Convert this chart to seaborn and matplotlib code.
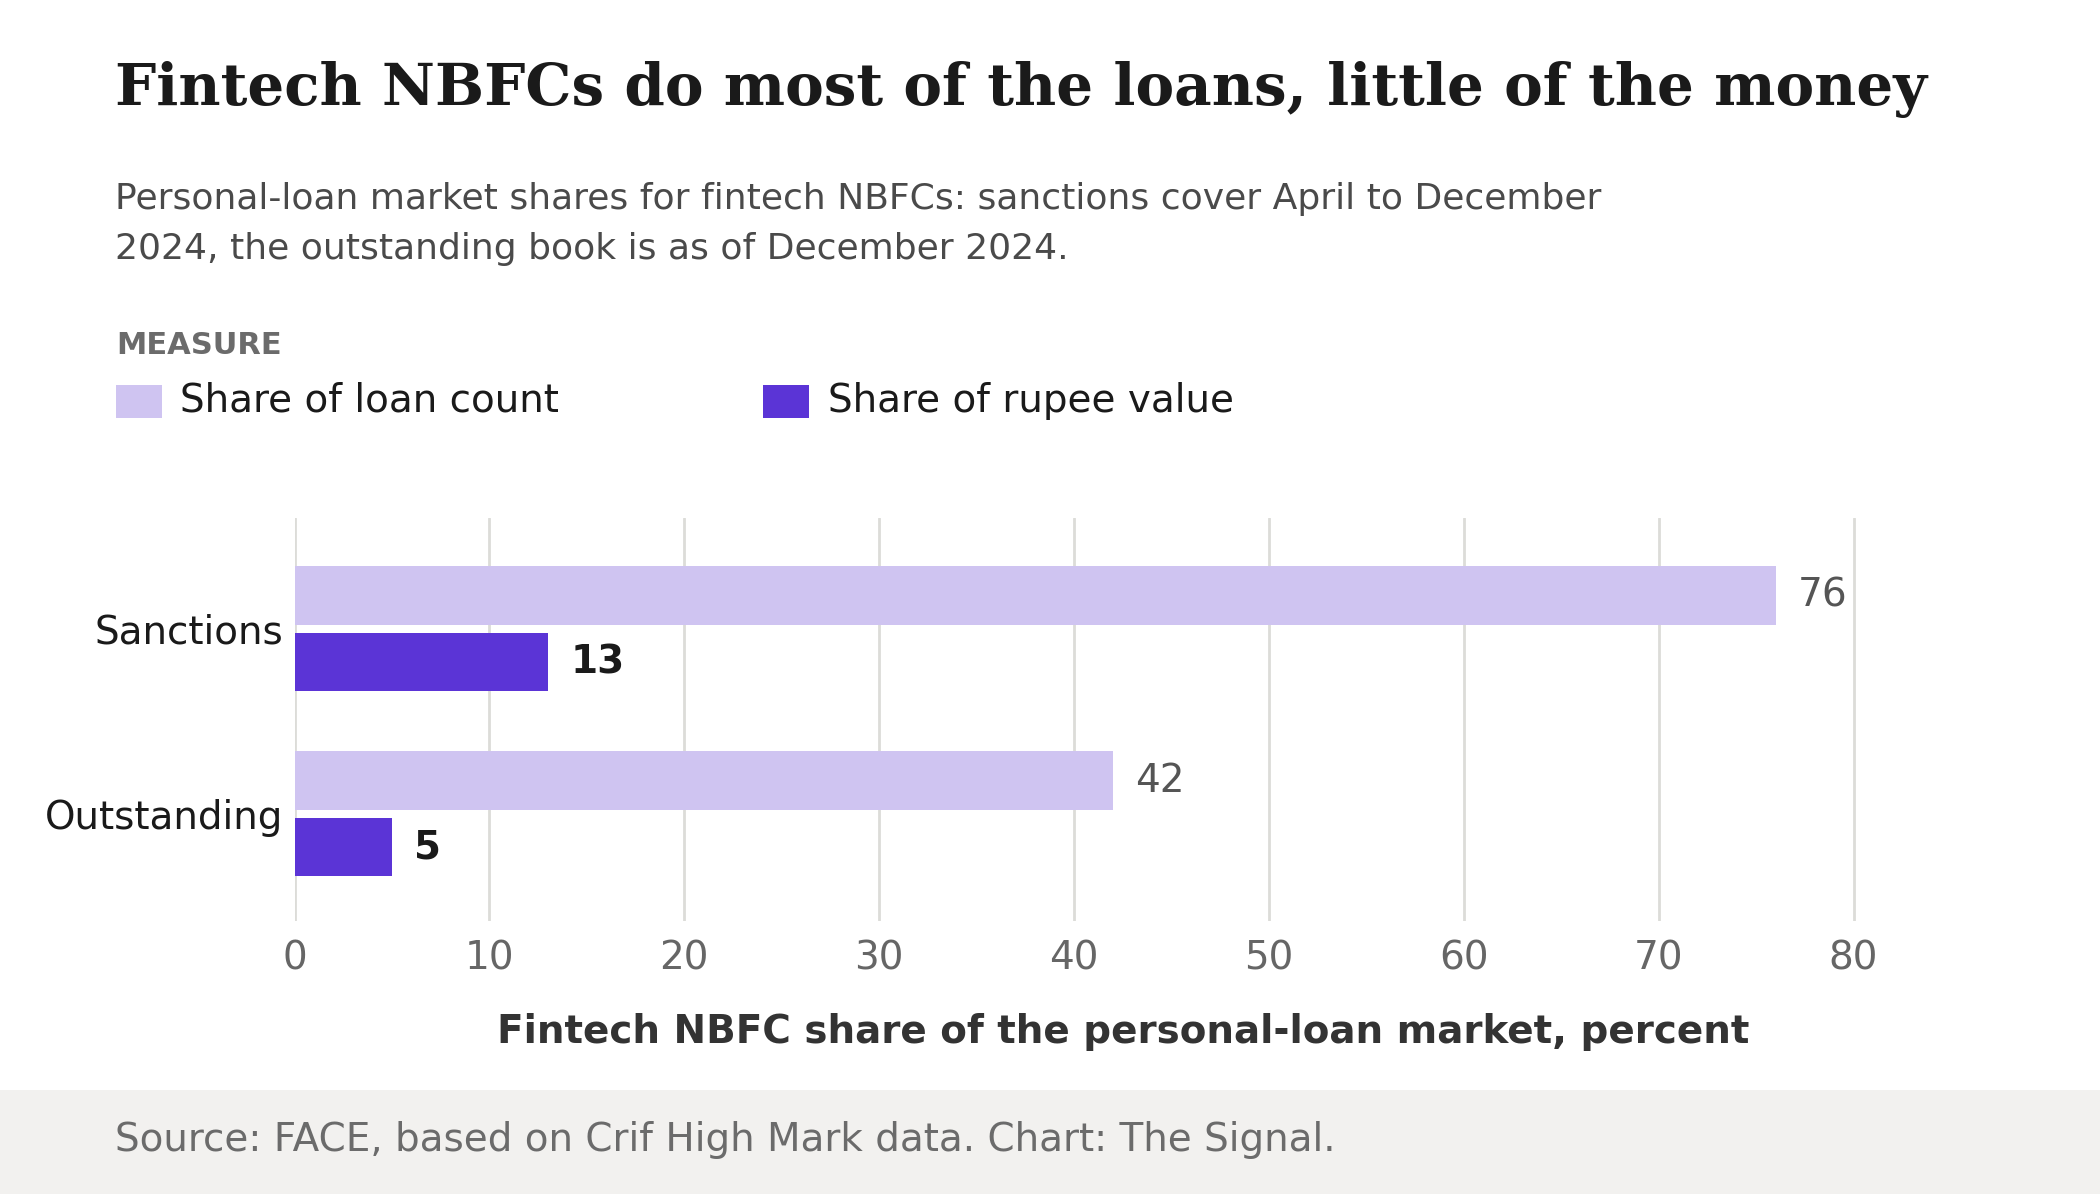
import matplotlib
matplotlib.use("Agg")
import matplotlib.pyplot as plt
from matplotlib.patches import Rectangle
import seaborn as sns
import pandas as pd

# ---- data ----
categories = ["Sanctions", "Outstanding"]
measures = ["Share of loan count", "Share of rupee value"]
loan_count_share = [76, 42]
rupee_value_share = [13, 5]
x_ticks = [0, 10, 20, 30, 40, 50, 60, 70, 80]

title = "Fintech NBFCs do most of the loans, little of the money"
subtitle = ("Personal-loan market shares for fintech NBFCs: sanctions cover April to December\n"
            "2024, the outstanding book is as of December 2024.")
legend_title = "MEASURE"
x_label = "Fintech NBFC share of the personal-loan market, percent"
source = "Source: FACE, based on Crif High Mark data. Chart: The Signal."

LIGHT = "#cfc4f1"
DARK = "#5b34d6"

df = pd.DataFrame({
    "stage": categories * 2,
    "measure": [measures[0]] * len(categories) + [measures[1]] * len(categories),
    "share": loan_count_share + rupee_value_share,
})

sns.set_theme(style="white")
plt.rcParams["font.family"] = ["DejaVu Sans"]

W, H, DPI = 2100, 1194, 200
fig = plt.figure(figsize=(W / DPI, H / DPI), dpi=DPI)
fig.patch.set_facecolor("white")

def fx(px):
    return px / W

def fy(py):
    return 1 - py / H

# footer band
fig.add_artist(Rectangle((0, 0), 1, fy(1090), transform=fig.transFigure,
                         facecolor="#f2f1ef", edgecolor="none", zorder=0))

ax = fig.add_axes([fx(294.6), fy(921), fx(1951) - fx(294.6), fy(518) - fy(921)])
ax.set_facecolor("none")

sns.barplot(data=df, y="stage", x="share", hue="measure", order=categories,
            hue_order=measures, palette=[LIGHT, DARK], saturation=1,
            width=0.72, gap=0.12, orient="h", linewidth=0, legend=False,
            ax=ax, zorder=3)

ax.set_xlim(0, 85)
ax.set_ylim(1.58, -0.6)
ax.set_xticks(x_ticks)
ax.set_xticklabels([str(t) for t in x_ticks])
ax.grid(axis="x", color="#dcdcd8", linewidth=1.0, zorder=0)
ax.grid(axis="y", visible=False)
ax.set_axisbelow(True)
for s in ax.spines.values():
    s.set_visible(False)
ax.tick_params(axis="x", length=0, pad=6.5, labelsize=14, labelcolor="#666666")
ax.tick_params(axis="y", length=0, pad=4, labelsize=14, labelcolor="#1a1a1a")
ax.set_ylabel("")
ax.set_xlabel(x_label, fontsize=14, fontweight="bold", color="#333333", labelpad=13)

# value labels
for i, cont in enumerate(ax.containers):
    if i == 0:
        ax.bar_label(cont, labels=[f"{v:g}" for v in cont.datavalues], padding=8,
                     fontsize=14, color="#555555")
    else:
        ax.bar_label(cont, labels=[f"{v:g}" for v in cont.datavalues], padding=8,
                     fontsize=14, color="#1a1a1a", fontweight="bold")

# titles
fig.text(fx(115), fy(89), title, fontfamily="DejaVu Serif", fontweight="bold",
         fontsize=20.9, color="#1a1a1a", va="center", ha="left")
fig.text(fx(115), fy(182), subtitle, fontsize=13, color="#4a4a4a", va="top",
         ha="left", linespacing=1.58)

# legend
fig.text(fx(116), fy(346), legend_title, fontsize=11, fontweight="bold",
         color="#6b6b6b", va="center", ha="left")
for xpx, txt_x, col, lab in [(116, 180, LIGHT, measures[0]), (763, 828, DARK, measures[1])]:
    fig.add_artist(Rectangle((fx(xpx), fy(418)), fx(46), fy(385) - fy(418),
                             transform=fig.transFigure, facecolor=col, edgecolor="none"))
    fig.text(fx(txt_x), fy(401), lab, fontsize=14, color="#1a1a1a", va="center", ha="left")

fig.text(fx(115), fy(1140), source, fontsize=14, color="#6b6b6b", va="center", ha="left")

fig.savefig("out.png", dpi=DPI, facecolor="white")
